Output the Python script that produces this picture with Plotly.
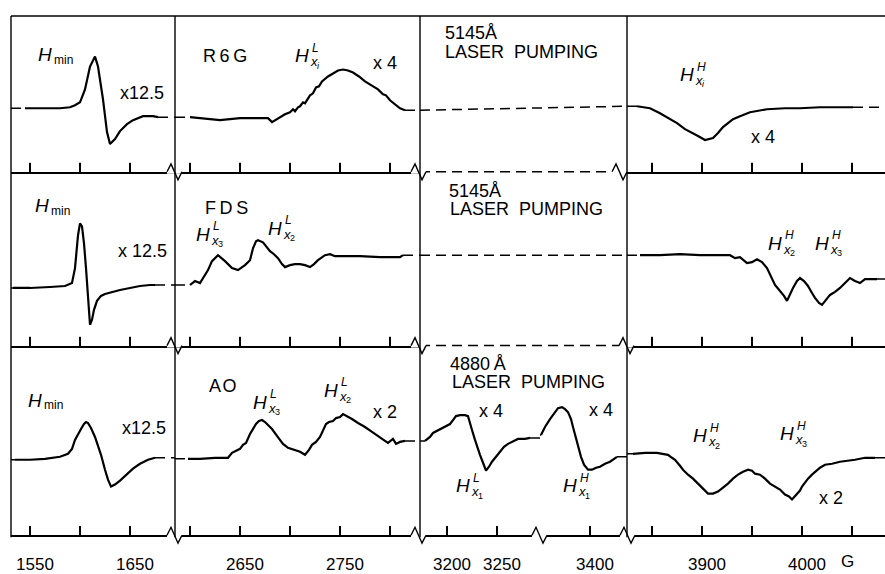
import plotly.graph_objects as go

# ---------------- data ----------------
# magnetic field in gauss, signal in arbitrary units relative to each row's baseline

# Row 1 : R6G, 5145 A pumping
r1_s1_field = [1545, 1565, 1580, 1590, 1595, 1600, 1605, 1610, 1613, 1615, 1618, 1623, 1627, 1630, 1635, 1640, 1647, 1653, 1663, 1673, 1678]
r1_s1_sig = [3, 3, 3, 4, 6, 9, 22, 45, 52, 55, 45, 12, -21, -33, -28, -20, -13, -9, -5, -5, -6]
r1_s2_field = [2600, 2610, 2620, 2630, 2640, 2650, 2665, 2678, 2682, 2688, 2695, 2700, 2703, 2705, 2708, 2710, 2713, 2715, 2720, 2723,
               2726, 2729, 2732, 2738, 2743, 2748, 2753, 2758, 2763, 2769, 2775, 2782, 2788, 2793, 2796, 2800, 2805, 2810, 2815]
r1_s2_sig = [-6, -7, -8, -9, -8, -7, -7, -7, -11, -7, -3, -1, 2, 0, 4, 5, 9, 8, 16, 18,
             24, 25, 30, 35, 38, 41, 42, 41, 39, 35, 30, 26, 22, 17, 16, 11, 7, 3, 1]
r1_s4_field = [3835, 3848, 3858, 3865, 3875, 3883, 3888, 3896, 3903, 3908, 3911, 3916, 3921, 3926, 3931, 3938, 3948, 3965, 3983, 3998, 4018, 4038, 4051]
r1_s4_sig = [5, 3, -2, -6, -12, -18, -21, -25, -29, -28, -27, -22, -16, -12, -8, -5, -1, 2, 3, 3, 4, 4, 4]

# Row 2 : FDS, 5145 A pumping
r2_s1_field = [1533, 1550, 1570, 1585, 1592, 1595, 1598, 1600, 1602, 1604, 1606, 1608, 1610, 1612, 1614, 1617, 1621, 1625, 1632, 1640, 1650, 1660, 1670, 1675]
r2_s1_sig = [-32, -32, -31, -30, -27, -12, 21, 33, 30, 13, -12, -45, -69, -64, -54, -45, -40, -38, -36, -34, -32, -30, -29, -29]
r2_s2_field = [2600, 2605, 2610, 2615, 2618, 2622, 2628, 2635, 2642, 2648, 2655, 2660, 2663, 2666, 2668, 2673, 2677, 2680, 2684, 2688,
               2692, 2695, 2700, 2705, 2710, 2715, 2720, 2724, 2728, 2735, 2740, 2745, 2755, 2770, 2790, 2810, 2813]
r2_s2_sig = [-29, -25, -27, -19, -14, -5, 1, -5, -12, -14, -9, -4, 8, 15, 16, 14, 9, 5, 2, -2,
             -8, -11, -9, -8, -8, -9, -11, -8, -4, 1, 2, 0, 0, 0, -1, -1, 1]
r2_s4_field = [3838, 3858, 3878, 3898, 3918, 3928, 3933, 3938, 3945, 3950, 3955, 3960, 3965, 3969, 3973, 3978, 3982, 3985, 3988, 3991,
               3995, 3998, 4002, 4006, 4010, 4013, 4017, 4020, 4024, 4028, 4033, 4038, 4043, 4048, 4053, 4058, 4063, 4075]
r2_s4_sig = [1, 1, 2, 1, 1, 1, -2, -1, -7, -6, -3, -6, -12, -20, -29, -35, -40, -45, -38, -32,
             -25, -22, -25, -30, -37, -42, -47, -49, -44, -39, -36, -32, -27, -22, -25, -27, -23, -23]

# Row 3 : AO, 4880 A pumping
r3_s1_field = [1535, 1550, 1565, 1580, 1588, 1592, 1595, 1598, 1601, 1604, 1606, 1608, 1611, 1615, 1618, 1621, 1625, 1628, 1631, 1635,
               1640, 1647, 1653, 1660, 1668, 1675]
r3_s1_sig = [-2, -2, -1, 1, 4, 9, 18, 24, 29, 34, 36, 35, 30, 21, 13, 3, -12, -22, -29, -27, -23, -16, -11, -6, -2, 0]
r3_s2_field = [2598, 2610, 2625, 2638, 2642, 2647, 2650, 2653, 2656, 2660, 2663, 2666, 2669, 2672, 2675, 2678, 2682, 2687, 2693, 2698,
               2703, 2710, 2715, 2719, 2722, 2726, 2730, 2733, 2736, 2739, 2743, 2746, 2750, 2753, 2757, 2762, 2768, 2775, 2782, 2790,
               2795, 2798, 2801, 2803, 2806, 2810, 2815]
r3_s2_sig = [-1, -1, 0, 0, 5, 7, 9, 13, 15, 24, 29, 34, 37, 38, 36, 33, 29, 22, 14, 10,
             8, 6, 3, 8, 13, 16, 21, 27, 34, 36, 37, 40, 41, 44, 42, 39, 35, 31, 26, 20,
             17, 15, 17, 19, 14, 16, 17]
r3_s3a_field = [3178, 3183, 3186, 3190, 3193, 3198, 3203, 3206, 3209, 3213, 3218, 3221, 3223, 3225, 3228, 3230, 3233, 3236, 3239, 3242,
                3245, 3249, 3253, 3257, 3261, 3265, 3271, 3278, 3283]
r3_s3a_sig = [17, 21, 25, 27, 29, 31, 34, 38, 42, 43, 43, 42, 36, 28, 18, 11, 3, -5, -13, -9, -4, 1, 6, 11, 14, 16, 19, 19, 20]
r3_s3b_field = [3351, 3355, 3360, 3364, 3368, 3372, 3375, 3378, 3381, 3383, 3386, 3388, 3391, 3394, 3398, 3402, 3406, 3410, 3415, 3420, 3424, 3427]
r3_s3b_sig = [23, 31, 39, 45, 50, 51, 49, 46, 39, 31, 19, 11, 1, -7, -12, -12, -10, -9, -6, -4, -1, 1]
r3_s4_field = [3831, 3843, 3855, 3861, 3866, 3870, 3873, 3878, 3881, 3886, 3891, 3896, 3901, 3906, 3911, 3916, 3921, 3926, 3931, 3936,
               3941, 3946, 3950, 3953, 3958, 3963, 3968, 3973, 3978, 3983, 3987, 3990, 3993, 3995, 3998, 4000, 4003, 4006, 4010, 4013,
               4018, 4023, 4030, 4038, 4046, 4053, 4063, 4073]
r3_s4_sig = [4, 5, 5, 4, 3, 0, -2, -8, -12, -17, -21, -26, -31, -36, -36, -34, -30, -26, -21, -17,
             -14, -12, -13, -16, -17, -21, -26, -29, -32, -37, -39, -42, -39, -37, -33, -29, -25, -21, -17, -14,
             -10, -7, -6, -4, -3, -2, 0, 0]

# tick marks (every 50 G) and labelled ticks of the broken field axis
tick_all_s1 = [1550, 1600, 1650]
tick_lab_s1 = [1550, 1650]
tick_all_s2 = [2600, 2650, 2700, 2750, 2800]
tick_lab_s2 = [2650, 2750]
tick_all_s3a = [3200, 3250]
tick_lab_s3a = [3200, 3250]
tick_all_s3b = [3400]
tick_lab_s3b = [3400]
tick_all_s4 = [3850, 3900, 3950, 4000, 4050]
tick_lab_s4 = [3900, 4000]

# ---------------- layout helpers ----------------
W, H = 885, 574
FONT = "Liberation Sans"
DASH = "10px,6px"
TICKLEN = 9


def xp(x):
    return x / W


def yp(y):
    return 1 - y / H


SEG = {
    "s1": ((11, 175), (1531, 1695)),
    "s2": ((175, 420), (2585, 2830)),
    "s3": ((420, 627), (3173, 3380)),
    "s3a": ((420, 540), (3173, 3293)),
    "s3b": ((540, 627), (3350, 3437)),
    "s4": ((627, 885), (3825, 4083)),
}
TICKS = {
    "s1": (tick_all_s1, tick_lab_s1),
    "s2": (tick_all_s2, tick_lab_s2),
    "s3": ([], []),
    "s3a": (tick_all_s3a, tick_lab_s3a),
    "s3b": (tick_all_s3b, tick_lab_s3b),
    "s4": (tick_all_s4, tick_lab_s4),
}

rows = [
    dict(axis=173, top=16, base=112, labels=False,
         segs=[("s1", r1_s1_field, r1_s1_sig), ("s2", r1_s2_field, r1_s2_sig),
               ("s3", None, None), ("s4", r1_s4_field, r1_s4_sig)]),
    dict(axis=348, top=173, base=258, labels=False,
         segs=[("s1", r2_s1_field, r2_s1_sig), ("s2", r2_s2_field, r2_s2_sig),
               ("s3", None, None), ("s4", r2_s4_field, r2_s4_sig)]),
    dict(axis=539, top=348, base=461, labels=True,
         segs=[("s1", r3_s1_field, r3_s1_sig), ("s2", r3_s2_field, r3_s2_sig),
               ("s3a", r3_s3a_field, r3_s3a_sig), ("s3b", r3_s3b_field, r3_s3b_sig),
               ("s4", r3_s4_field, r3_s4_sig)]),
]

fig = go.Figure()
layout = dict(width=W, height=H, margin=dict(l=0, r=0, t=0, b=0),
              paper_bgcolor="white", plot_bgcolor="rgba(0,0,0,0)", showlegend=False)
shapes_dash_axis = []
tick_shapes = []
xi = 0
for ri, row in enumerate(rows, start=1):
    yname = "yaxis" if ri == 1 else f"yaxis{ri}"
    yref = "y" if ri == 1 else f"y{ri}"
    first_x = None
    segs = row["segs"]
    b = row["base"]
    ymin = b - row["axis"]
    for si, (sname, fld, sig) in enumerate(segs):
        xi += 1
        xname = "xaxis" if xi == 1 else f"xaxis{xi}"
        xref = "x" if xi == 1 else f"x{xi}"
        if first_x is None:
            first_x = xref
        (d0, d1), (g0, g1) = SEG[sname]
        t_all, t_lab = TICKS[sname]
        ax = dict(domain=[xp(d0), xp(d1)], range=[g0, g1], anchor=yref,
                  showgrid=False, zeroline=False, fixedrange=True)
        if sname == "s3":
            ax.update(showline=False, showticklabels=False, ticks="")
            shapes_dash_axis.append(dict(type="line", xref=f"{xref} domain", yref=f"{yref} domain",
                                         x0=0, x1=1, y0=0, y1=0, layer="above",
                                         line=dict(color="black", width=1.5, dash=DASH)))
        else:
            major = t_lab if row["labels"] else t_all
            minor_vals = [v for v in t_all if v not in major]
            ax.update(showline=True, linecolor="black", linewidth=1.6,
                      ticks="inside", ticklen=TICKLEN, tickwidth=1.7, tickcolor="black",
                      tickmode="array", tickvals=major, ticktext=[str(v) for v in major],
                      showticklabels=row["labels"],
                      tickfont=dict(family=FONT, size=17, color="black"),
                      ticklabelstandoff=13, ticklabelshift=5,
                      minor=dict(tickmode="array", tickvals=minor_vals, ticks="inside",
                                 ticklen=TICKLEN, tickwidth=1.7, tickcolor="black", showgrid=False))
            # the same tick marks also as shapes placed on this axis' own scale
            for v in t_all:
                tick_shapes.append(dict(type="line", xref=xref, yref=f"{yref} domain",
                                        x0=v, x1=v, y0=0, y1=TICKLEN / (row["axis"] - row["top"]),
                                        layer="above", line=dict(color="black", width=1.7)))
        layout[xname] = ax
        if fld is None:
            yl = segs[si - 1][2][-1]
            yr = segs[si + 1][2][0]
            fig.add_trace(go.Scatter(x=[g0, g1], y=[yl, yr], xaxis=xref, yaxis=yref, mode="lines",
                                     line=dict(color="black", width=1.5, dash=DASH), hoverinfo="skip"))
        else:
            fig.add_trace(go.Scatter(x=[g0, fld[0]], y=[sig[0], sig[0]], xaxis=xref, yaxis=yref, mode="lines",
                                     line=dict(color="black", width=1.5, dash=DASH), hoverinfo="skip"))
            fig.add_trace(go.Scatter(x=[fld[-1], g1], y=[sig[-1], sig[-1]], xaxis=xref, yaxis=yref, mode="lines",
                                     line=dict(color="black", width=1.5, dash=DASH), hoverinfo="skip"))
            fig.add_trace(go.Scatter(x=fld, y=sig, xaxis=xref, yaxis=yref, mode="lines",
                                     line=dict(color="black", width=2.2), hoverinfo="skip"))
    layout[yname] = dict(domain=[yp(row["axis"]), yp(row["top"])],
                         range=[ymin, b - row["top"]], anchor=first_x,
                         showline=False, showgrid=False, zeroline=False, ticks="",
                         showticklabels=False, fixedrange=True)

# ---------------- decorations: axis breaks, frame ----------------
breaks = [(173, [167, 411, 612]), (348, [167, 411, 619]), (539, [167, 411, 532, 620])]
cover, zig = [], []
for yb, xs in breaks:
    for a in xs:
        cover.append(dict(type="rect", xref="paper", yref="paper", x0=xp(a), x1=xp(a + 15),
                          y0=yp(yb + 2), y1=yp(yb - 2), fillcolor="white", line=dict(width=0), layer="above"))
        pts = [(a, yb), (a + 4, yb - 8), (a + 11, yb + 8), (a + 15, yb)]
        path = "M " + " L ".join(f"{xp(px):.5f},{yp(py):.5f}" for px, py in pts)
        zig.append(dict(type="path", xref="paper", yref="paper", path=path, layer="above",
                        line=dict(color="black", width=1.4)))

frame = []
for xd in [11, 175, 420, 627]:
    frame.append(dict(type="line", xref="paper", yref="paper", x0=xp(xd), x1=xp(xd),
                      y0=yp(16), y1=yp(541), layer="above", line=dict(color="black", width=1.4)))
frame.append(dict(type="line", xref="paper", yref="paper", x0=xp(11), x1=xp(885),
                  y0=yp(16), y1=yp(16), layer="above", line=dict(color="black", width=1.5)))
layout["shapes"] = shapes_dash_axis + cover + zig + frame + tick_shapes

# ---------------- text ----------------
ann = []


def txt(text, x, y, size=18, xanchor="center"):
    ann.append(dict(text=text, x=xp(x), y=yp(y), xref="paper", yref="paper", xanchor=xanchor,
                    yanchor="middle", showarrow=False, font=dict(family=FONT, size=size, color="black")))


def hlab(hx, hy, sup=None, idx=None):
    txt("<i>H</i>", hx, hy, size=19)
    if sup is None:
        txt("min", hx + 7, hy + 5, size=12, xanchor="left")
    else:
        txt(f"<i>{sup}</i>", hx + 8, hy - 8, size=12, xanchor="left")
        txt("<i>x</i>", hx + 6, hy + 6, size=13, xanchor="left")
        ix = "<i>i</i>" if idx == "i" else idx
        txt(ix, hx + 13, hy + 10, size=9, xanchor="left")


# row 1
hlab(45, 55)
txt("x12.5", 142, 94)
txt("R\u20096\u2009G", 225, 56)
hlab(302, 56, "L", "i")
txt("x 4", 385, 63)
txt("5145Å", 443, 33, xanchor="left")
txt("LASER\u00a0\u00a0PUMPING", 443, 52, xanchor="left")
hlab(687, 75, "H", "i")
txt("x 4", 763, 138)
# row 2
hlab(42, 207)
txt("x 12.5", 142, 253)
txt("F\u2009D\u2009S", 226, 209)
hlab(203, 236, "L", "3")
hlab(275, 230, "L", "2")
txt("5145Å", 447, 192, xanchor="left")
txt("LASER\u00a0\u00a0PUMPING", 448, 210, xanchor="left")
hlab(775, 245, "H", "2")
hlab(822, 245, "H", "3")
# row 3
hlab(35, 403)
txt("x12.5", 144, 431)
txt("A\u200aO", 223, 389)
hlab(260, 405, "L", "3")
hlab(331, 393, "L", "2")
txt("x 2", 385, 415)
txt("4880\u2009Å", 448, 367, xanchor="left")
txt("LASER\u00a0\u00a0PUMPING", 450, 385, xanchor="left")
txt("x 4", 491, 414)
txt("x 4", 601, 413)
hlab(463, 489, "L", "1")
hlab(570, 489, "H", "1")
hlab(700, 439, "H", "2")
hlab(787, 437, "H", "3")
txt("x 2", 831, 501)
txt("G", 847, 565, size=17)
layout["annotations"] = ann

fig.update_layout(**layout)
fig.write_html("out.html", config={"displayModeBar": False},
               post_script="document.body.style.margin='0';document.body.style.overflow='hidden';")
